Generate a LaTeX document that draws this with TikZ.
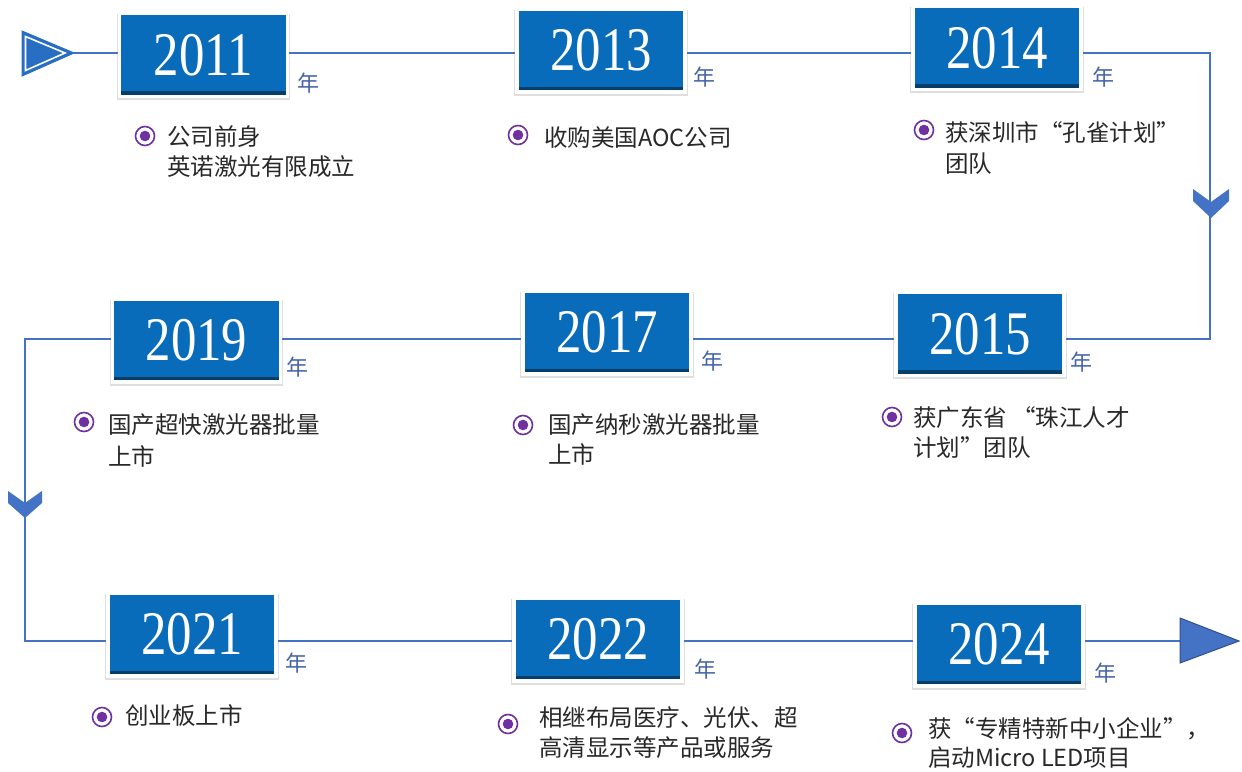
\documentclass[tikz,border=0pt]{standalone}
\usepackage{fontspec}
\setmainfont{Noto Sans CJK SC}
\newfontfamily\yearfont{Liberation Serif}
\usetikzlibrary{shadows,backgrounds}
\definecolor{boxblue}{RGB}{8,108,186}
\definecolor{lineblue}{RGB}{68,114,196}
\definecolor{arrowblue}{RGB}{40,110,195}
\definecolor{nianblue}{RGB}{70,100,170}
\definecolor{bulpurple}{RGB}{112,48,160}
\definecolor{txtgray}{RGB}{40,40,40}
\tikzset{
  yearbox/.style={draw=white, line width=3.5pt, fill=boxblue, minimum width=168pt, minimum height=83pt, inner sep=0pt,
    drop shadow={shadow xshift=0pt, shadow yshift=-2pt, opacity=0.25, shadow scale=1.035},
    path picture={\shade[top color=boxblue, bottom color=boxblue!55!black]
      ([yshift=5pt]path picture bounding box.south west) rectangle (path picture bounding box.south east);},
    font=\yearfont\fontsize{62}{62}\selectfont, text=white},
  conn/.style={draw=lineblue, line width=1.2pt},
  nian/.style={font=\fontsize{22}{22}\selectfont, text=nianblue, inner sep=0pt},
  bul/.style={circle, draw=bulpurple, line width=1.6pt, fill=white, minimum size=19pt, inner sep=0pt,
    path picture={\fill[bulpurple] (path picture bounding box.center) circle (5.3pt);}},
  desc/.style={anchor=base west, inner sep=0pt, font=\fontsize{23.5}{30}\selectfont, text=txtgray},
  chev/.style={fill=lineblue, draw=none}
}
\newcommand{\yr}[1]{\raisebox{-2pt}{\scalebox{0.82}[1]{#1}}}
\begin{document}
\begin{tikzpicture}[x=1pt,y=-1pt]
\useasboundingbox (0,0) rectangle (1242,771);
% rows
\coordinate (r1) at (0,53);
\coordinate (r2) at (0,339);
\coordinate (r3) at (0,641);
\coordinate (c1) at (1210,53);
\coordinate (c2) at (1210,339);
\coordinate (c3) at (25,339);
\coordinate (c4) at (25,641);
% start arrow
\coordinate (start) at (74,53);
\filldraw[fill=arrowblue, draw=arrowblue, line width=1pt] (22,31) -- (start) -- (22,76) -- cycle;
\draw[white, line width=1.6pt, line join=miter] (25.5,36.5) -- (65,53) -- (25.5,70.5) -- cycle;
% end arrow
\coordinate (endtip) at (1239,641);
\filldraw[fill=lineblue, draw=lineblue!70!black, line width=1pt] (1180,618) -- (endtip) -- (1180,663) -- cycle;
\coordinate (endarrow) at (1180,641);
% year boxes
\node[yearbox] (b2011) at (203.5,55) {\yr{2011}};
\node[yearbox] (b2013) at (601,50.5) {\yr{2013}};
\node[yearbox] (b2014) at (997,48) {\yr{2014}};
\node[yearbox] (b2019) at (196.5,340.5) {\yr{2019}};
\node[yearbox] (b2017) at (607,332.5) {\yr{2017}};
\node[yearbox] (b2015) at (980,334) {\yr{2015}};
\node[yearbox] (b2021) at (192,634.5) {\yr{2021}};
\node[yearbox] (b2022) at (598,639.5) {\yr{2022}};
\node[yearbox] (b2024) at (999,644.5) {\yr{2024}};
% connectors
\begin{scope}[on background layer]
\fill[white] (0,0) rectangle (1242,771);
\draw[conn] (start) -- (b2011.west |- r1);
\draw[conn] (b2011.east |- r1) -- (b2013.west |- r1);
\draw[conn] (b2013.east |- r1) -- (b2014.west |- r1);
\draw[conn] (b2014.east |- r1) -- (c1) -- (c2) -- (b2015.east |- r2);
\draw[conn] (b2015.west |- r2) -- (b2017.east |- r2);
\draw[conn] (b2017.west |- r2) -- (b2019.east |- r2);
\draw[conn] (b2019.west |- r2) -- (c3) -- (c4) -- (b2021.west |- r3);
\draw[conn] (b2021.east |- r3) -- (b2022.west |- r3);
\draw[conn] (b2022.east |- r3) -- (b2024.west |- r3);
\draw[conn] (b2024.east |- r3) -- (endarrow);
\end{scope}
% chevrons
\path[chev] (1193,189) -- (1211,202) -- (1229,189) -- (1229,201) -- (1211,218) -- (1193,201) -- cycle;
\path[chev] (8,491) -- (25,503) -- (42,491) -- (42,503) -- (25,518) -- (8,503) -- cycle;
% 年 labels
\node[nian] (n2011) at (308,83) {年};
\node[nian] (n2013) at (704,77) {年};
\node[nian] (n2014) at (1103,77) {年};
\node[nian] (n2019) at (297,367) {年};
\node[nian] (n2017) at (712,361) {年};
\node[nian] (n2015) at (1081,362) {年};
\node[nian] (n2021) at (296,663) {年};
\node[nian] (n2022) at (705,669) {年};
\node[nian] (n2024) at (1105,673) {年};
% bullets and texts
\node[bul] (p1) at (145,136) {};
\node[desc] (t1a) at (167,145.5) {公司前身};
\node[desc] (t1b) at (167,175) {英诺激光有限成立};
\node[bul] (p2) at (518,135) {};
\node[desc] (t2a) at (544,146.5) {收购美国AOC公司};
\node[bul] (p3) at (924,130) {};
\node[desc] (t3a) at (945,141.5) {获深圳市“孔雀计划”};
\node[desc] (t3b) at (945,172.5) {团队};
\node[bul] (p4) at (84,422) {};
\node[desc] (t4a) at (108,433.5) {国产超快激光器批量};
\node[desc] (t4b) at (108,465) {上市};
\node[bul] (p5) at (523,425) {};
\node[desc] (t5a) at (548,433.5) {国产纳秒激光器批量};
\node[desc] (t5b) at (548,463.5) {上市};
\node[bul] (p6) at (892,417) {};
\node[desc] (t6a) at (913,426.5) {获广东省 “珠江人才};
\node[desc] (t6b) at (913,456.5) {计划”团队};
\node[bul] (p7) at (102,717) {};
\node[desc] (t7a) at (125,724.5) {创业板上市};
\node[bul] (p8) at (508,724) {};
\node[desc] (t8a) at (539,726.5) {相继布局医疗、光伏、超};
\node[desc] (t8b) at (539,756.5) {高清显示等产品或服务};
\node[bul] (p9) at (902,733) {};
\node[desc] (t9a) at (928,737.5) {获“专精特新中小企业”，};
\node[desc] (t9b) at (928,766.5) {启动Micro LED项目};
\end{tikzpicture}
\end{document}
